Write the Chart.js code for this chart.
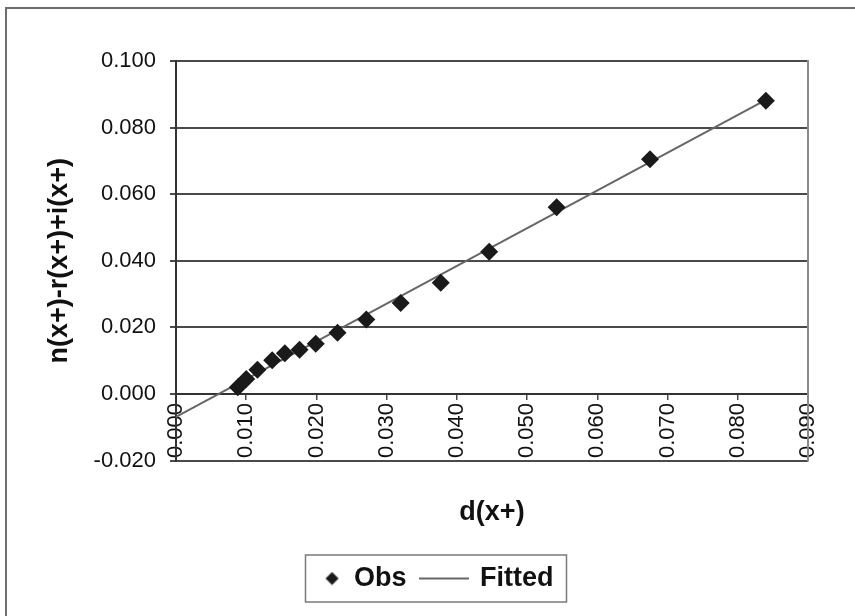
<!DOCTYPE html>
<html>
<head>
<meta charset="utf-8">
<script src="https://cdn.jsdelivr.net/npm/chart.js@4/dist/chart.umd.min.js"></script>
<style>
  html, body { margin: 0; padding: 0; background: #ffffff; }
  #wrap { position: relative; width: 855px; height: 616px; }
</style>
</head>
<body>
<div id="wrap"><canvas id="c" width="855" height="616"></canvas></div>
<script>
// Observed points: d(x+) against n(x+)-r(x+)+i(x+)
const obsD = [0.0088, 0.0100, 0.0116, 0.0137, 0.0155, 0.0176, 0.0199, 0.0230,
              0.0271, 0.0320, 0.0377, 0.0446, 0.0542, 0.0675, 0.0840];
const obsN = [0.0020, 0.0045, 0.0073, 0.0101, 0.0122, 0.0133, 0.0151, 0.0184,
              0.0224, 0.0273, 0.0334, 0.0427, 0.0561, 0.0705, 0.0881];

// Fitted straight line, given by its two end points
const fitD = [0.000, 0.084];
const fitN = [-0.0069, 0.0883];

// Axis tick labels
const xTickLabels = ['0.000', '0.010', '0.020', '0.030', '0.040',
                     '0.050', '0.060', '0.070', '0.080', '0.090'];
const yTickLabels = ['-0.020', '0.000', '0.020', '0.040', '0.060', '0.080', '0.100'];

const seriesNames = ['Obs', 'Fitted'];
const xTitle = 'd(x+)';
const yTitle = 'n(x+)-r(x+)+i(x+)';

const FONT = "'Liberation Sans', Arial, Helvetica, sans-serif";
const INK = '#111111';
const MARK = '#1a1a1a';
const FIT_COLOR = '#666666';
const GRID = '#4a4a4a';

Chart.defaults.font.family = FONT;
Chart.defaults.color = INK;

// Small legend symbols
function legendDiamond() {
  const cv = document.createElement('canvas');
  cv.width = 46; cv.height = 14;
  const g = cv.getContext('2d');
  g.fillStyle = MARK;
  g.beginPath();
  g.moveTo(37.5, 0.5); g.lineTo(44, 7); g.lineTo(37.5, 13.5); g.lineTo(31, 7);
  g.closePath(); g.fill();
  return cv;
}
function legendLine() {
  const cv = document.createElement('canvas');
  cv.width = 50; cv.height = 4;
  const g = cv.getContext('2d');
  g.strokeStyle = FIT_COLOR; g.lineWidth = 2;
  g.beginPath(); g.moveTo(0, 2); g.lineTo(50, 2); g.stroke();
  return cv;
}

// White page with the outer frame
const pageFrame = {
  id: 'pageFrame',
  beforeDraw(chart) {
    const ctx = chart.ctx;
    ctx.save();
    ctx.fillStyle = '#ffffff';
    ctx.fillRect(0, 0, chart.width, chart.height);
    ctx.strokeStyle = '#6e6e6e';
    ctx.lineWidth = 2;
    ctx.strokeRect(6, 8, chart.width + 20, chart.height + 20);
    ctx.restore();
  }
};

// Right edge of the plot area
const plotEdge = {
  id: 'plotEdge',
  beforeDatasetsDraw(chart) {
    const a = chart.chartArea, ctx = chart.ctx;
    ctx.save();
    ctx.strokeStyle = '#8a8a8a';
    ctx.lineWidth = 2;
    ctx.beginPath();
    ctx.moveTo(a.right, a.top - 1);
    ctx.lineTo(a.right, a.bottom + 1);
    ctx.stroke();
    ctx.restore();
  }
};

// Box round the legend entries
const legendFrame = {
  id: 'legendFrame',
  afterDraw(chart) {
    const hb = chart.legend && chart.legend.legendHitBoxes;
    if (!hb || !hb.length) return;
    const first = hb[0], last = hb[hb.length - 1];
    const left = first.left + 11;
    const right = last.left + last.width + 13;
    const top = first.top - 10;
    const bottom = first.top + first.height + 10;
    const ctx = chart.ctx;
    ctx.save();
    ctx.strokeStyle = '#7a7a7a';
    ctx.lineWidth = 1.5;
    ctx.strokeRect(left, top, right - left, bottom - top);
    ctx.restore();
  }
};

const symbols = [legendDiamond(), legendLine()];

new Chart(document.getElementById('c'), {
  type: 'scatter',
  data: {
    datasets: [
      {
        label: seriesNames[0],
        data: obsD.map((d, i) => ({ x: d, y: obsN[i] })),
        showLine: false,
        pointStyle: 'rectRot',
        pointRadius: 9,
        pointHoverRadius: 9,
        backgroundColor: MARK,
        borderColor: MARK,
        borderWidth: 0,
        order: 1
      },
      {
        label: seriesNames[1],
        data: fitD.map((d, i) => ({ x: d, y: fitN[i] })),
        showLine: true,
        pointRadius: 0,
        borderColor: FIT_COLOR,
        borderWidth: 2,
        backgroundColor: FIT_COLOR,
        order: 2
      }
    ]
  },
  options: {
    responsive: false,
    animation: false,
    devicePixelRatio: 1,
    layout: { padding: { left: 40, right: 47, top: 61, bottom: 14 } },
    plugins: {
      tooltip: { enabled: false },
      title: {
        display: true,
        text: xTitle,
        position: 'bottom',
        weight: 500,
        fullSize: false,
        color: INK,
        font: { size: 27, weight: 'bold', family: FONT },
        padding: { top: 36, bottom: 22 }
      },
      legend: {
        display: true,
        position: 'bottom',
        labels: {
          usePointStyle: true,
          pointStyleWidth: 46,
          padding: 14,
          color: INK,
          font: { size: 27, weight: 'bold', family: FONT },
          generateLabels(chart) {
            return chart.data.datasets.map((ds, i) => ({
              text: ds.label,
              pointStyle: symbols[i],
              fillStyle: 'transparent',
              strokeStyle: 'transparent',
              lineWidth: 0,
              hidden: false,
              datasetIndex: i,
              fontColor: INK
            }));
          }
        }
      }
    },
    scales: {
      x: {
        type: 'linear',
        min: 0,
        max: 0.09,
        position: { y: 0 },
        ticks: {
          stepSize: 0.01,
          autoSkip: false,
          minRotation: 90,
          maxRotation: 90,
          padding: 4,
          color: INK,
          font: { size: 22, family: FONT },
          callback: (v, i) => xTickLabels[i]
        },
        grid: {
          drawOnChartArea: false,
          drawTicks: true,
          tickLength: 5,
          color: GRID,
          lineWidth: 1.5
        },
        border: { display: true, color: '#333333', width: 2 },
        title: { display: false }
      },
      y: {
        type: 'linear',
        min: -0.02,
        max: 0.1,
        position: 'left',
        afterFit(scale) { scale.width = 136; },
        ticks: {
          stepSize: 0.02,
          padding: 14,
          color: INK,
          font: { size: 22, family: FONT },
          callback: (v, i) => yTickLabels[i]
        },
        grid: {
          color: GRID,
          lineWidth: 2,
          drawTicks: true,
          tickLength: 6
        },
        border: { display: true, color: '#333333', width: 2 },
        title: {
          display: true,
          text: yTitle,
          color: INK,
          font: { size: 27, weight: 'bold', family: FONT },
          padding: { top: 3, bottom: 0 }
        }
      }
    }
  },
  plugins: [pageFrame, plotEdge, legendFrame]
});
</script>
</body>
</html>
